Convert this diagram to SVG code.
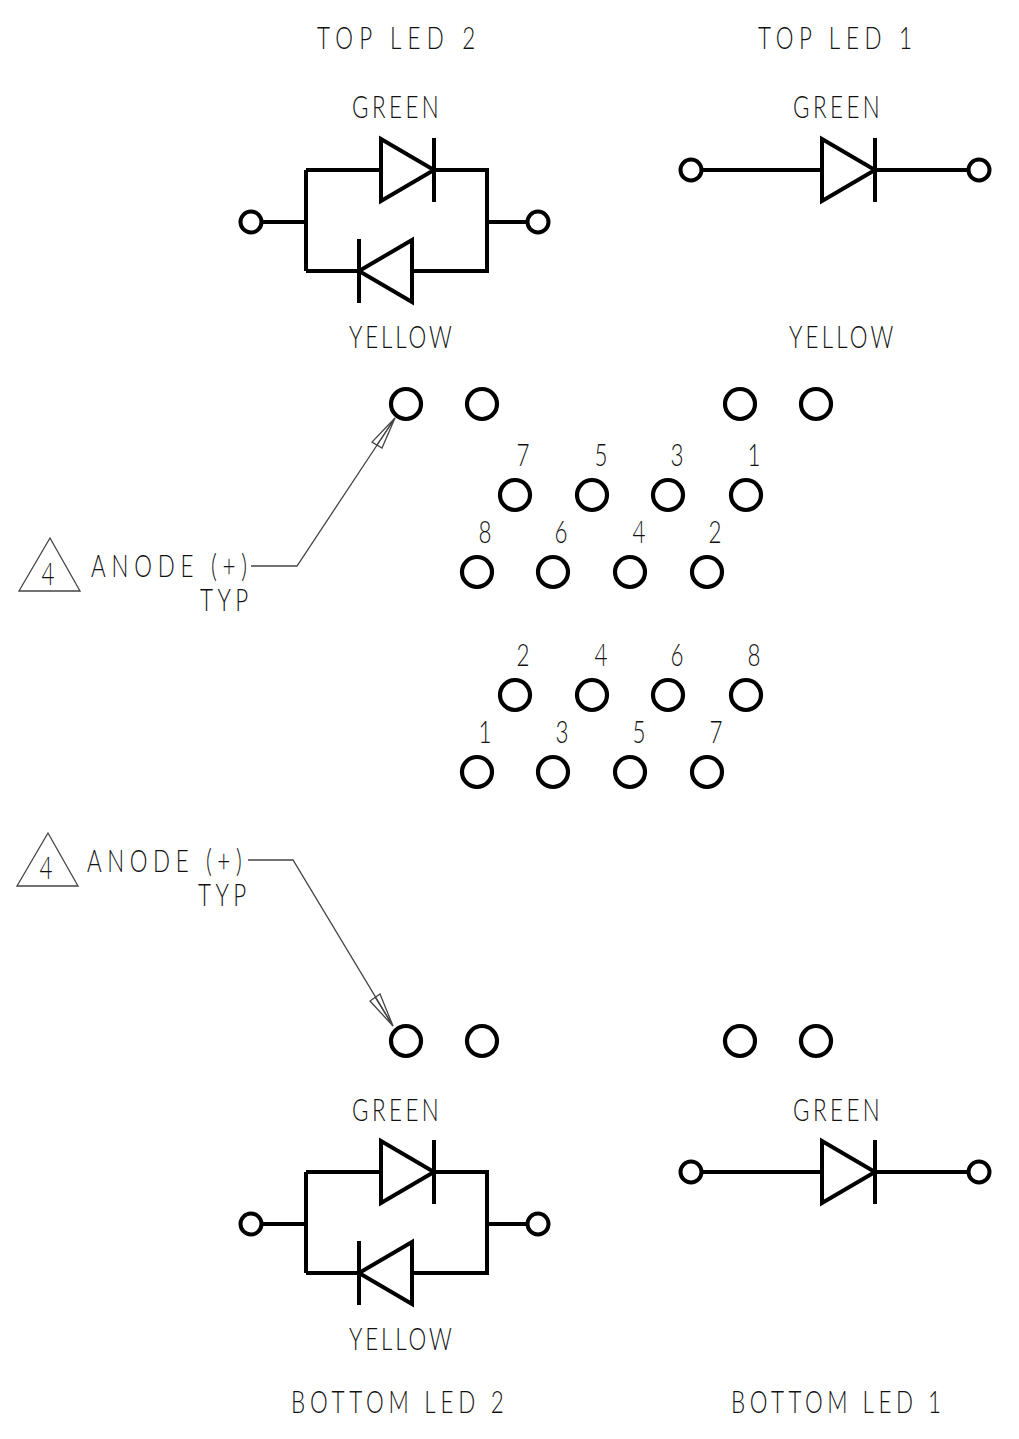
<svg xmlns="http://www.w3.org/2000/svg" width="1019" height="1439" viewBox="0 0 1019 1439">
<style>
text{font-family:Lato,"Liberation Sans",Arial,sans-serif;font-weight:300;font-size:32px;fill:#111}
.w{fill:none;stroke:#000;stroke-width:4}
.p{fill:none;stroke:#000;stroke-width:4.2}
.l{fill:none;stroke:#444;stroke-width:1.3}
</style>
<defs>
<g id="dr"><path class="w" d="M-26.500 -31V31L26.500 0ZM26.500 -32V32"/></g>
<g id="dl"><path class="w" d="M26.500 -31V31L-26.500 0ZM-26.500 -32V32"/></g>
<circle id="c" class="p" r="15"/>
<circle id="t" class="w" r="10.500"/>
</defs>
<rect width="1019" height="1439" fill="#fff"/>
<g id="connectors">
<path class="w" d="M262 222H306M306 170V271M306 170H381M434 170H487V271H412M359 271H306M487 222H527"/>
<path class="w" d="M702 170H822M875 170H968"/>
<path class="w" d="M262 1224H306M306 1172V1273M306 1172H381M434 1172H487V1273H412M359 1273H306M487 1224H527"/>
<path class="w" d="M702 1172H822M875 1172H968"/>
<path class="l" d="M251 566H297L395 418"/>
<path class="l" d="M248 860H293L393 1026"/>
</g>
<g id="led-top-2">
<use href="#t" x="251" y="222"/><use href="#t" x="538" y="222"/>
<use href="#dr" x="407.500" y="170"/><use href="#dl" x="385.500" y="271"/>
<text transform="translate(317 49) scale(.7 1)" textLength="226">TOP LED 2</text>
<text transform="translate(352 118) scale(.7 1)" textLength="124">GREEN</text>
<text transform="translate(349 348) scale(.7 1)" textLength="147">YELLOW</text>
</g>
<g id="led-top-1">
<use href="#t" x="691" y="170"/><use href="#t" x="979" y="170"/>
<use href="#dr" x="848.500" y="170"/>
<text transform="translate(758 49) scale(.7 1)" textLength="220">TOP LED 1</text>
<text transform="translate(793 118) scale(.7 1)" textLength="124">GREEN</text>
<text transform="translate(789 348) scale(.7 1)" textLength="149">YELLOW</text>
</g>
<g id="pins-top">
<use href="#c" x="406" y="404"/><use href="#c" x="482" y="404"/><use href="#c" x="740" y="404"/><use href="#c" x="816" y="404"/>
<use href="#c" x="515" y="495"/><use href="#c" x="592" y="495"/><use href="#c" x="668" y="495"/><use href="#c" x="746" y="495"/>
<use href="#c" x="477" y="572"/><use href="#c" x="553" y="572"/><use href="#c" x="630" y="572"/><use href="#c" x="707" y="572"/>
<g text-anchor="middle">
<text transform="translate(523 466) scale(.7 1)">7</text><text transform="translate(601 466) scale(.7 1)">5</text><text transform="translate(677 466) scale(.7 1)">3</text><text transform="translate(754 466) scale(.7 1)">1</text>
<text transform="translate(485 543) scale(.7 1)">8</text><text transform="translate(561 543) scale(.7 1)">6</text><text transform="translate(639 543) scale(.7 1)">4</text><text transform="translate(715 543) scale(.7 1)">2</text>
</g>
</g>
<g id="pins-bottom">
<use href="#c" x="515" y="695"/><use href="#c" x="592" y="695"/><use href="#c" x="668" y="695"/><use href="#c" x="746" y="695"/>
<use href="#c" x="477" y="772"/><use href="#c" x="553" y="772"/><use href="#c" x="630" y="772"/><use href="#c" x="707" y="772"/>
<use href="#c" x="406" y="1041"/><use href="#c" x="482" y="1041"/><use href="#c" x="740" y="1041"/><use href="#c" x="816" y="1041"/>
<g text-anchor="middle">
<text transform="translate(523 666) scale(.7 1)">2</text><text transform="translate(601 666) scale(.7 1)">4</text><text transform="translate(677 666) scale(.7 1)">6</text><text transform="translate(754 666) scale(.7 1)">8</text>
<text transform="translate(485 743) scale(.7 1)">1</text><text transform="translate(562 743) scale(.7 1)">3</text><text transform="translate(639 743) scale(.7 1)">5</text><text transform="translate(716 743) scale(.7 1)">7</text>
</g>
</g>
<g id="note-top">
<path class="l" d="M50 538L80 591H19Z"/>
<text transform="translate(48 585) scale(.7 1)" text-anchor="middle">4</text>
<text transform="translate(91 577) scale(.7 1)" textLength="223">ANODE (+)</text>
<text transform="translate(200 611) scale(.7 1)" textLength="69">TYP</text>
<path class="l" d="M395 418L372 442L382 448ZM395 418L377 445"/>
</g>
<g id="note-bottom">
<path class="l" d="M48 833L78 886H17Z"/>
<text transform="translate(46 879) scale(.7 1)" text-anchor="middle">4</text>
<text transform="translate(87 872) scale(.7 1)" textLength="221">ANODE (+)</text>
<text transform="translate(198 906) scale(.7 1)" textLength="69">TYP</text>
<path class="l" d="M393 1026L370 1001L380 994ZM393 1026L375 997"/>
</g>
<g id="led-bottom-2">
<use href="#t" x="251" y="1224"/><use href="#t" x="538" y="1224"/>
<use href="#dr" x="407.500" y="1172"/><use href="#dl" x="385.500" y="1273"/>
<text transform="translate(352 1121) scale(.7 1)" textLength="124">GREEN</text>
<text transform="translate(349 1350) scale(.7 1)" textLength="147">YELLOW</text>
<text transform="translate(291 1413) scale(.7 1)" textLength="304">BOTTOM LED 2</text>
</g>
<g id="led-bottom-1">
<use href="#t" x="691" y="1172"/><use href="#t" x="979" y="1172"/>
<use href="#dr" x="848.500" y="1172"/>
<text transform="translate(793 1121) scale(.7 1)" textLength="124">GREEN</text>
<text transform="translate(731 1413) scale(.7 1)" textLength="300">BOTTOM LED 1</text>
</g>
</svg>
